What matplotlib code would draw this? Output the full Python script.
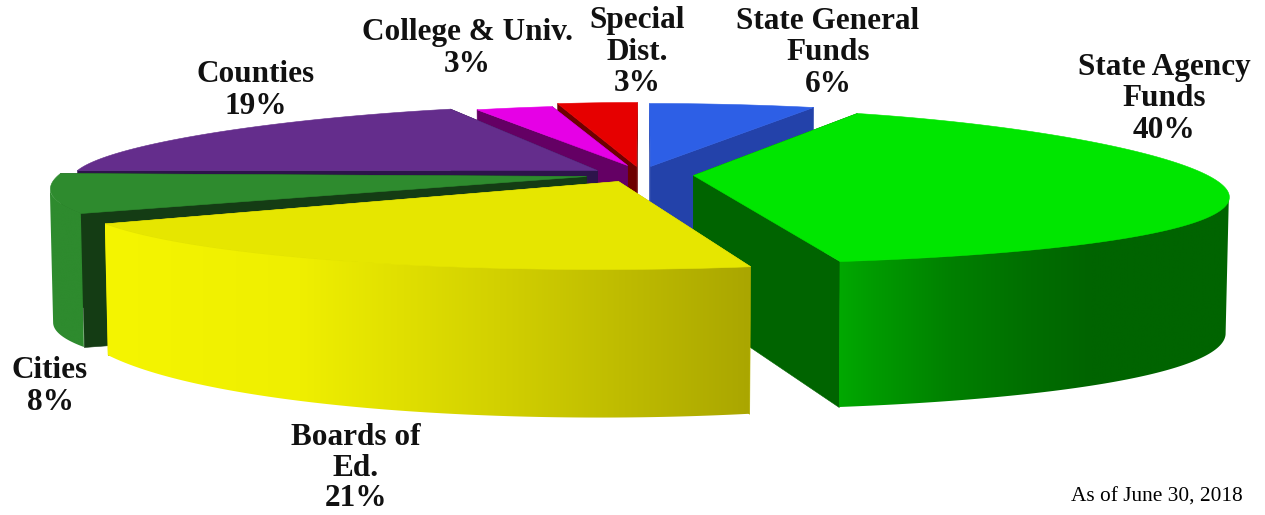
import numpy as np
import matplotlib
matplotlib.use("Agg")
import matplotlib.pyplot as plt
from matplotlib.collections import PolyCollection
from matplotlib.colors import to_rgb
from matplotlib.patches import Polygon

# ---- data -------------------------------------------------------------
categories = ["State General\nFunds", "State Agency\nFunds", "Boards of\nEd.", "Cities",
              "Counties", "College & Univ.", "Special\nDist."]
shares = [6, 40, 21, 8, 19, 3, 3]
footnote = "As of June 30, 2018"

# ---- styles (per slice geometry of the exploded perspective pie) --------
top_colors = ["#2d5fe6", "#00e600", "#e6e600", "#2e8b2e", "#642d8c", "#e600e6", "#e60000"]
cut_colors = ["#2342aa", "#006400", "#b4b000", "#143c14", "#2d144b", "#640064", "#6e0000"]
# centre x, centre y, rx, ry, perspective k, apex x, apex y, depth, depth slope
geometry = [
    (649, 160, 518, 57, .15, 650, 166, 126, .0),
    (687, 185.5, 536, 78, .15, 693, 175, 135, .145),
    (600, 181, 527, 88, .15, 618, 181, 116, .37),
    (590, 173, 530, 83, .20, 586, 176, 134, .0),
    (623, 170, 546, 66, .15, 597, 170, 130, .0),
    (628, 166, 478, 61, .15, 627, 165, 100, .0),
    (637, 166, 500, 64, .15, 636, 166, 100, .0),
]
wall_stops = {
    1: ([835, 870, 950, 1030, 1090, 1228], ["#00aa00", "#009c00", "#008000", "#006e00", "#006400", "#006400"]),
    2: ([105, 300, 500, 750], ["#f5f500", "#efef00", "#d2d000", "#aaa600"]),
    3: ([50, 90], ["#2e8b2e", "#2e8b2e"]),
}
label_pos = [(828, 53), (1164, 99), (356, 468), (50, 386.5), (256, 90.5), (467, 48.5), (637, 52)]
label_spacing = [1.1, 1.1, 1.05, 1.1, 1.1, 1.1, 1.1]
bottom_inset = .006

fig = plt.figure(figsize=(12.65, 5.15), dpi=100)
ax = fig.add_axes([0, 0, 1, 1])
ax.axis("off")

edges = np.cumsum([0] + shares) / sum(shares) * 2 * np.pi


def rim(i, th):
    cx, cy, rx, ry, k, *_ = geometry[i]
    return cx + rx * np.sin(th) * (1 - k * np.cos(th)), cy - ry * np.cos(th)


def depth(i, y):
    g = geometry[i]
    return g[7] + g[8] * (y - g[1])


def lower(i, x, y):
    return x + (geometry[i][0] - x) * bottom_inset, y + depth(i, y)


def poly(pts, color, z):
    ax.add_collection(PolyCollection([pts], facecolors=color, edgecolors=color, linewidths=.4, zorder=z))


def draw_slice(i, z):
    th = np.linspace(edges[i], edges[i + 1], 240)
    x, y = rim(i, th)
    g = geometry[i]
    ax_, ay_ = g[5], g[6]
    # cut faces
    for xe, ye in ((x[0], y[0]), (x[-1], y[-1])):
        xb, yb = lower(i, xe, ye)
        poly([(ax_, ay_), (xe, ye), (xb, yb), (ax_, ay_ + depth(i, ay_))], cut_colors[i], z)
    # outer wall: a horizontal colour ramp clipped to the front-facing wall outline
    if i in wall_stops:
        sx, sc = wall_stops[i]
        rgb = np.array([to_rgb(c) for c in sc])
        if np.sin(th).mean() > 0:
            keep = slice(int(np.argmax(x)), None)
        else:
            keep = slice(0, int(np.argmin(x)) + 1)
        xf, yf = x[keep], y[keep]
        xb, yb = lower(i, xf, yf)
        outline = np.vstack([np.c_[xf, yf], np.c_[xb, yb][::-1]])
        x0, x1 = outline[:, 0].min(), outline[:, 0].max()
        xs = np.linspace(x0, x1, 600)
        ramp = np.stack([np.interp(xs, sx, rgb[:, n]) for n in range(3)], axis=1)[None, :, :]
        im = ax.imshow(ramp, extent=[x0, x1, outline[:, 1].max(), outline[:, 1].min()],
                       aspect="auto", interpolation="bilinear", zorder=z + .1)
        im.set_clip_path(Polygon(outline, transform=ax.transData))
    # top
    poly(np.vstack([[ax_, ay_], np.c_[x, y]]), top_colors[i], z + .2)


# back-to-front painting
for z, i in enumerate([6, 5, 4, 3, 0, 1, 2]):
    draw_slice(i, z + 1)

ax.set_xlim(0, 1265)
ax.set_ylim(515, 0)

serif = ["Liberation Serif", "DejaVu Serif"]
for name, share, (lx, ly), sp in zip(categories, shares, label_pos, label_spacing):
    ax.text(lx, ly, f"{name}\n{share}%", ha="center", va="center", ma="center", family=serif,
            weight="bold", fontsize=22.5, color="#111111", linespacing=sp, zorder=20)
ax.text(1243, 497, footnote, ha="right", va="center", family=serif, fontsize=15.4, color="black", zorder=20)

fig.savefig("out.png", dpi=100)
